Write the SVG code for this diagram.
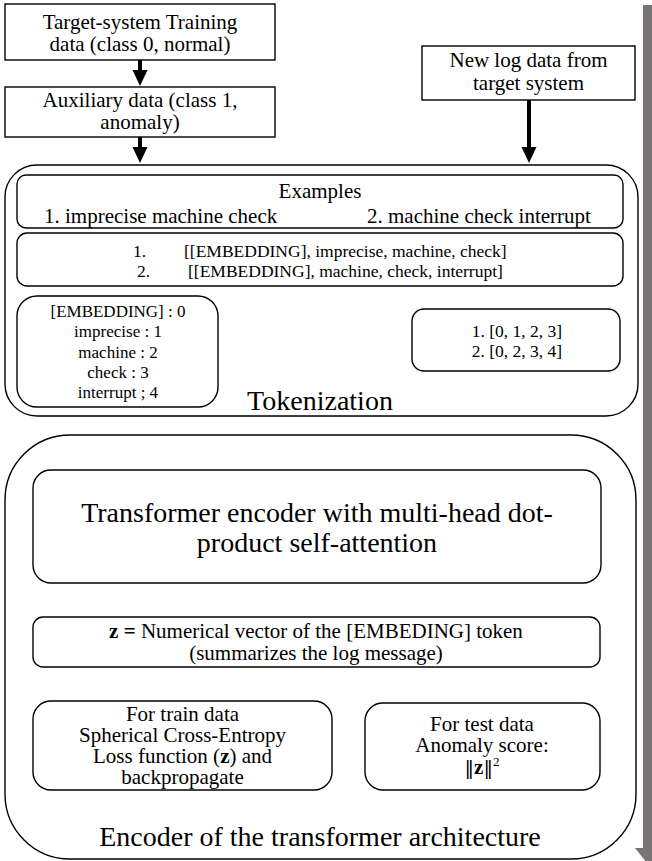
<svg xmlns="http://www.w3.org/2000/svg" width="652" height="861" viewBox="0 0 652 861">
<style>
  .box { fill: #ffffff; stroke: #000000; stroke-width: 1.4; }
  .outer { fill: #ffffff; stroke: #000000; stroke-width: 1.4; }
  .t { font-family: "Liberation Serif", "Times New Roman", serif; fill: #000000; }
  .f21 { font-size: 21px; }
  .f17 { font-size: 17.5px; }
  .f17s { font-size: 17px; }
  .f28 { font-size: 28px; }
  .mid { text-anchor: middle; }
  .b { font-weight: bold; }
  .bars { font-family: "DejaVu Serif", serif; font-size: 19px; }
  .conn { stroke: #000000; stroke-width: 4; fill: none; }
</style>
<defs>
  <marker id="ah" markerUnits="userSpaceOnUse" markerWidth="16" markerHeight="16" viewBox="0 0 16 16" refX="6" refY="8" orient="auto">
    <path d="M0,0.5 L16,8 L0,15.5 z" fill="#000000"/>
  </marker>
</defs>
<rect width="652" height="861" fill="#ffffff"/>

<g id="side-arrow">
  <polygon points="643,5 659,5 659,848 667,848 651,868 635,848 643,848" fill="#787474"/>
</g>

<g id="training-data">
  <rect class="box" x="5" y="4" width="270" height="56"/>
  <text class="t f21 mid" x="140" y="29">Target-system Training</text>
  <text class="t f21 mid" x="140" y="51">data (class 0, normal)</text>
</g>

<g id="auxiliary-data">
  <rect class="box" x="5" y="87" width="270" height="50"/>
  <text class="t f21 mid" x="140" y="107">Auxiliary data (class 1,</text>
  <text class="t f21 mid" x="140" y="129">anomaly)</text>
</g>

<g id="new-log-data">
  <rect class="box" x="422" y="46" width="213" height="54"/>
  <text class="t f21 mid" x="528.5" y="67">New log data from</text>
  <text class="t f21 mid" x="528.5" y="90">target system</text>
</g>

<g id="tokenization">
  <rect class="outer" x="5" y="165" width="633" height="251" rx="32" ry="32"/>
  <text class="t f28 mid" x="320" y="410">Tokenization</text>
</g>

<g id="examples">
  <rect class="box" x="17" y="175" width="606" height="53" rx="9" ry="9"/>
  <text class="t f21 mid" x="320" y="198">Examples</text>
  <text class="t f21" x="44" y="223">1. imprecise machine check</text>
  <text class="t f21" x="367" y="223">2. machine check interrupt</text>
</g>

<g id="token-lists">
  <rect class="box" x="17" y="233" width="606" height="53" rx="10" ry="10"/>
  <text class="t f17" x="133" y="257">1.</text>
  <text class="t f17" x="184" y="257">[[EMBEDDING], imprecise, machine, check]</text>
  <text class="t f17" x="137" y="277">2.</text>
  <text class="t f17" x="188" y="277">[[EMBEDDING], machine, check, interrupt]</text>
</g>

<g id="vocabulary">
  <rect class="box" x="17" y="296" width="201" height="111" rx="20" ry="20"/>
  <text class="t f17s mid" x="118" y="317">[EMBEDDING] : 0</text>
  <text class="t f17s mid" x="118" y="337">imprecise : 1</text>
  <text class="t f17s mid" x="118" y="358">machine : 2</text>
  <text class="t f17s mid" x="118" y="378">check : 3</text>
  <text class="t f17s mid" x="118" y="398">interrupt ; 4</text>
</g>

<g id="token-ids">
  <rect class="box" x="412" y="309" width="208" height="62" rx="12" ry="12"/>
  <text class="t f17 mid" x="517" y="337">1. [0, 1, 2, 3]</text>
  <text class="t f17 mid" x="517" y="357">2. [0, 2, 3, 4]</text>
</g>

<g id="encoder">
  <rect class="outer" x="5" y="435" width="631" height="424" rx="65" ry="65"/>
  <text class="t f28 mid" x="320" y="846">Encoder of the transformer architecture</text>
</g>

<g id="transformer-encoder">
  <rect class="box" x="33" y="470" width="568" height="113" rx="18" ry="18"/>
  <text class="t f28 mid" x="317" y="522">Transformer encoder with multi-head dot-</text>
  <text class="t f28 mid" x="317" y="552">product self-attention</text>
</g>

<g id="z-vector">
  <rect class="box" x="33" y="617" width="567" height="50" rx="10" ry="10"/>
  <text class="t f21 mid" x="316" y="638"><tspan class="b">z =</tspan> Numerical vector of the [EMBEDING] token</text>
  <text class="t f21 mid" x="316" y="660">(summarizes the log message)</text>
</g>

<g id="train-loss">
  <rect class="box" x="33" y="701" width="299" height="89" rx="18" ry="18"/>
  <text class="t f21 mid" x="182.5" y="721">For train data</text>
  <text class="t f21 mid" x="182.5" y="742">Spherical Cross-Entropy</text>
  <text class="t f21 mid" x="182.5" y="763">Loss function (<tspan class="b">z</tspan>) and</text>
  <text class="t f21 mid" x="182.5" y="784">backpropagate</text>
</g>

<g id="test-score">
  <rect class="box" x="365" y="703" width="235" height="87" rx="18" ry="18"/>
  <text class="t f21 mid" x="482" y="731">For test data</text>
  <text class="t f21 mid" x="482" y="752">Anomaly score:</text>
  <text class="t f21 mid" x="482" y="774"><tspan class="bars">‖</tspan><tspan class="b">z</tspan><tspan class="bars">‖</tspan><tspan font-size="13" dy="-8">2</tspan></text>
</g>

<g id="connectors">
  <line class="conn" x1="140" y1="60" x2="140" y2="76" marker-end="url(#ah)"/>
  <line class="conn" x1="140" y1="137" x2="140" y2="153" marker-end="url(#ah)"/>
  <line class="conn" x1="529" y1="100" x2="529" y2="153" marker-end="url(#ah)"/>
</g>
</svg>
